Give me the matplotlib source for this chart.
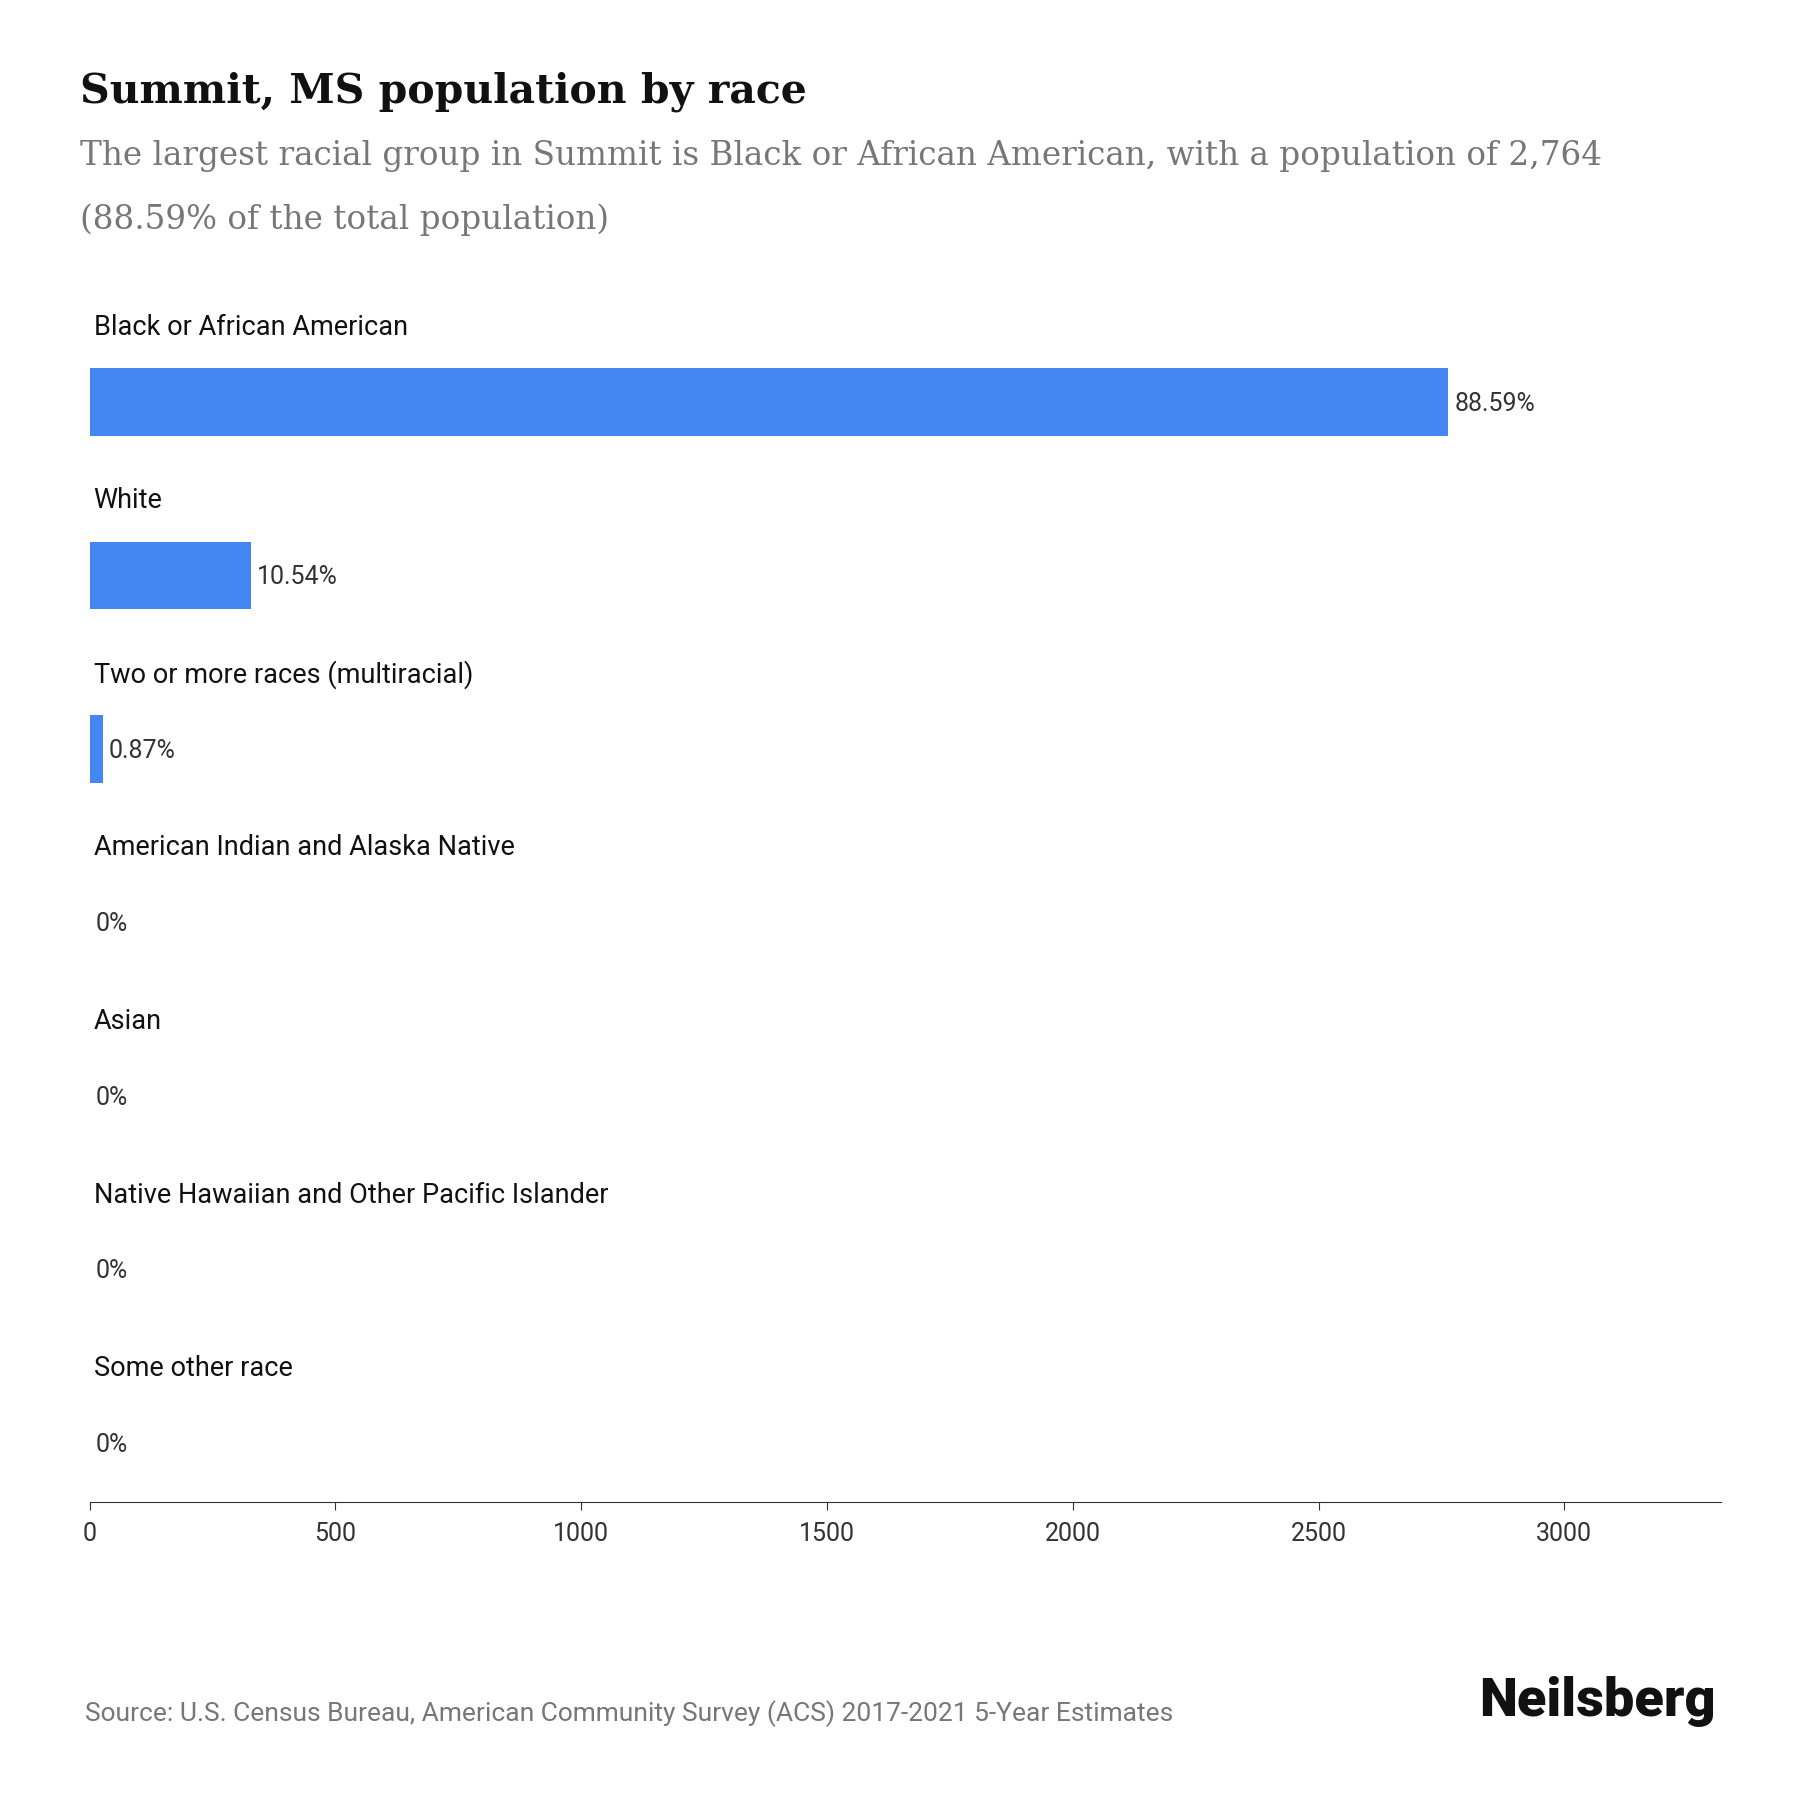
import matplotlib
matplotlib.use("Agg")
import matplotlib.pyplot as plt

categories = ["Black or African American", "White", "Two or more races (multiracial)",
              "American Indian and Alaska Native", "Asian",
              "Native Hawaiian and Other Pacific Islander", "Some other race"]
values = [2764, 329, 27, 0, 0, 0, 0]
pct_labels = ["88.59%", "10.54%", "0.87%", "0%", "0%", "0%", "0%"]
xticks = [0, 500, 1000, 1500, 2000, 2500, 3000]

plt.rcParams['font.family'] = ['Roboto', 'DejaVu Sans']
fig = plt.figure(figsize=(18, 18), dpi=100)
H = 1566.0
ax = fig.add_axes([78/H, 1-1307/H, (1497-78)/H, (1307-265)/H])
ys = list(range(len(categories)))
ax.barh(ys, values, height=0.39, color="#4487f3")
for y, v, c, p in zip(ys, values, categories, pct_labels):
    ax.text(v + 12, y + 0.01, p, va="center", ha="left", fontsize=18, color="#333333")
    ax.text(8, y - 0.43, c, va="center", ha="left", fontsize=19.5, color="#111111")
ax.set_ylim(6.34, -0.56)
ax.set_xlim(0, 3318)
ax.set_yticks([])
ax.set_xticks(xticks)
ax.set_xticklabels([str(t) for t in xticks], fontsize=18, color="#333333")
for s in ["top", "right", "left"]:
    ax.spines[s].set_visible(False)
ax.spines["bottom"].set_color("#333333")
ax.tick_params(axis="x", length=6, color="#333333", pad=8)

fig.text(70/H, 1-80/H, "Summit, MS population by race", fontsize=29.5, fontweight="bold",
         family=["DejaVu Serif"], va="center", color="#111111")
fig.text(70/H, 1-136/H, "The largest racial group in Summit is Black or African American, with a population of 2,764",
         fontsize=23.5, family=["DejaVu Serif"], va="center", color="#777777")
fig.text(70/H, 1-191/H, "(88.59% of the total population)",
         fontsize=23.5, family=["DejaVu Serif"], va="center", color="#777777")
fig.text(74/H, 1-1491/H, "Source: U.S. Census Bureau, American Community Survey (ACS) 2017-2021 5-Year Estimates",
         fontsize=19, va="center", color="#777777")
fig.text(1493/H, 1-1480/H, "Neilsberg", fontsize=39, fontweight="heavy", ha="right", va="center", color="#111111")
fig.savefig("out.png", dpi=100, facecolor="white")
